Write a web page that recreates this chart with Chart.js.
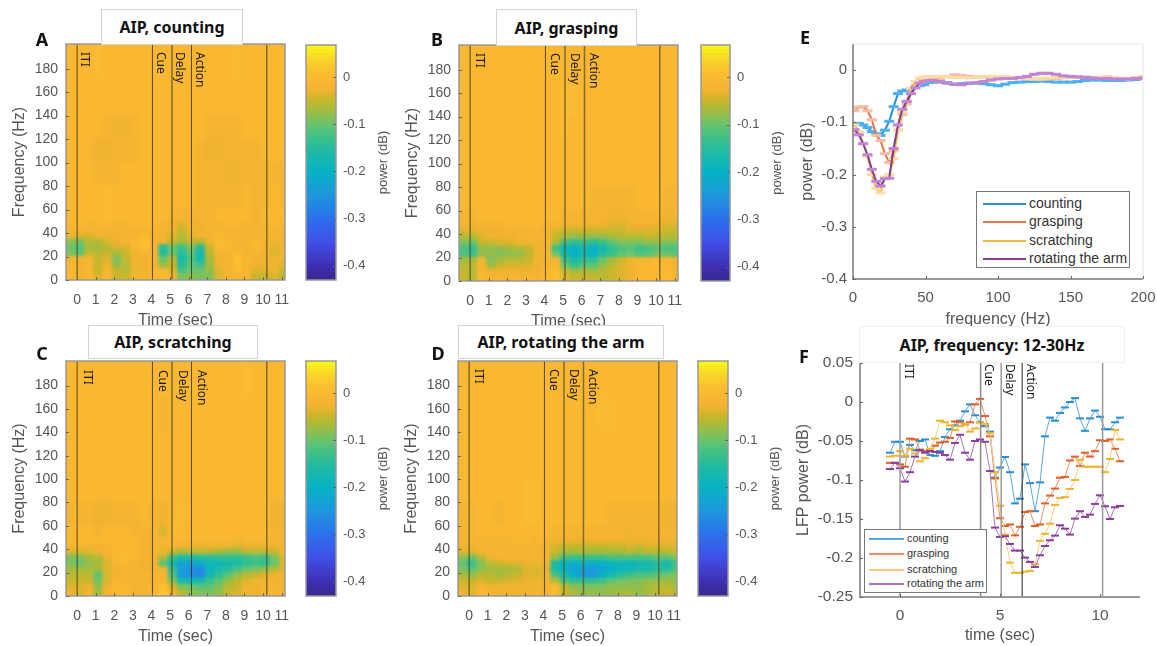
<!DOCTYPE html>
<html lang="en">

<head>
    <meta charset="UTF-8">
    <title>AIP power</title>
    <script src="https://cdn.jsdelivr.net/npm/chart.js"></script>
    <style>
        body { margin: 0; background: white; width: 1157px; height: 646px; overflow: hidden; position: relative; font-family: "Liberation Sans", Arial, sans-serif; }
        canvas { position: absolute; }
        .title { position: absolute; box-sizing: border-box; background: white; border: 1px solid #d4d4d4; color: #111; display: flex; justify-content: center; align-items: center; font: bold 16px "Noto Sans", sans-serif; z-index: 2; }
        .letter { position: absolute; font: bold 18px "Noto Sans", sans-serif; color: #111; transform: translate(-50%, -50%); z-index: 3; }
        .legend { position: absolute; box-sizing: border-box; background: white; border: 1.5px solid #777; z-index: 3; }
        .legend div { position: absolute; color: #333; white-space: nowrap; line-height: 1; }
        .legend span { position: absolute; height: 2px; }
    </style>
</head>

<body>
    <div class="title" style="left:101px;top:9px;width:142px;height:36px">AIP, counting</div>
    <div class="title" style="left:496px;top:9px;width:141px;height:37px">AIP, grasping</div>
    <div class="title" style="left:88px;top:325px;width:170px;height:34px">AIP, scratching</div>
    <div class="title" style="left:458px;top:325px;width:206px;height:34px">AIP, rotating the arm</div>
    <div class="title" style="left:859px;top:326px;width:266px;height:37px;border-color:#f0f0f0">AIP, frequency: 12-30Hz</div>
    <div class="letter" style="left:42px;top:39px">A</div>
    <div class="letter" style="left:437px;top:39px">B</div>
    <div class="letter" style="left:42px;top:353px">C</div>
    <div class="letter" style="left:438px;top:353px">D</div>
    <div class="letter" style="left:805px;top:37px">E</div>
    <div class="letter" style="left:804px;top:356px">F</div>

<script>
    // heatmap grid: time bin centres (sec) and frequency band edges (Hz)
    const timeBins = [-0.35, 0.15, 0.65, 1.15, 1.65, 2.15, 2.65, 3.15, 3.65, 4.15, 4.65, 5.15, 5.65, 6.15, 6.65, 7.15, 7.65, 8.15, 8.65, 9.15, 9.65, 10.15, 10.65, 11.15];
    const freqEdges = [0, 5, 10, 15, 20, 25, 30, 35, 40, 45, 50, 60, 80, 100, 120, 140, 170, 201];

    // heatmap power, in 0.01 dB, rows go from the lowest band up
    const countingPower = [
        [-1,-3,-1,-4,-1,-5,-5,-2,-3,-1,0,-2,-9,-8,-9,-9,-4,-2,-2,-2,-5,-5,-4,-6],
        [-1,-3,-1,-5,-1,-5,-6,-3,-3,-1,-1,-4,-12,-10,-10,-8,-4,-2,0,-2,-4,-4,-3,-5],
        [-2,-3,-2,-5,-3,-8,-6,-3,-3,-2,-8,-5,-15,-11,-13,-7,-3,-2,1,-2,-3,-3,-3,-4],
        [-2,-3,-2,-5,-4,-9,-5,-3,-3,-2,-10,-6,-17,-12,-17,-7,-3,-2,1,-1,-3,-3,-3,-3],
        [-9,-11,-5,-6,-5,-7,-5,-3,-2,-2,-15,-10,-15,-11,-17,-6,-2,-2,-1,-2,-2,-3,-4,-3],
        [-10,-11,-7,-7,-6,-4,-4,-1,1,-2,-15,-10,-13,-9,-15,-5,0,-1,-2,-2,-1,-2,-4,-3],
        [-8,-9,-6,-6,-4,-3,-2,-1,1,-2,-3,-5,-7,-5,-6,-3,0,-1,-2,-2,-1,-2,-3,-3],
        [-3,-4,-4,-3,-3,-3,-2,-2,-1,-2,-3,-4,-6,-4,-3,-2,-1,-2,-2,-2,-2,-2,-2,-3],
        [-2,-2,-2,-2,-2,-2,-2,-2,-2,-2,-2,-3,-5,-3,-3,-2,-2,-2,-2,-2,-2,-2,-2,-2],
        [-1,-1,-2,-1,-1,-2,-2,-1,-1,-1,-2,-3,-4,-3,-3,-2,-2,-1,-1,-2,-2,-2,-1,-2],
        [-1,-1,-1,-1,0,-1,-1,-1,-1,-1,-1,-2,-2,-2,-2,-2,-1,-1,-1,-1,-2,-1,-1,-1],
        [-1,-1,-1,-1,0,-1,-1,-1,-1,-1,-1,-1,-1,-1,-2,-2,-2,-2,-2,-1,-2,-2,-1,-2],
        [-1,-1,-1,-2,-2,-2,-1,-1,-1,-1,-1,-1,-1,-1,-2,-2,-2,-3,-3,-2,-2,-2,-2,-2],
        [-1,-1,-1,-3,-3,-2,-2,-2,-1,-1,-1,-1,-1,-1,-2,-3,-3,-2,-2,-2,-2,-1,-1,-1],
        [-1,-1,-1,-1,-2,-3,-3,-2,-1,-1,-1,-1,-1,-1,-1,-2,-2,-2,-2,-1,-1,-1,-1,-1],
        [-1,-1,-1,-1,-1,-1,-1,-1,-1,-1,-1,-1,-1,-1,-1,-1,-1,-1,-1,-1,-1,-1,-1,-1],
        [-1,-1,-1,0,-1,-1,-1,-1,-1,-1,-1,-1,-1,-1,-1,-1,-1,-1,0,-1,-1,-1,-1,-1]
    ];
    const graspingPower = [
        [-5,-6,-1,-2,-2,-2,-2,-2,-2,-1,1,-4,-5,-5,-5,-6,-5,-4,-3,-1,-1,0,0,-3],
        [-5,-6,-1,-3,-3,-3,-3,-3,-3,-1,1,-5,-7,-6,-7,-6,-5,-4,-3,-1,-1,-1,0,-3],
        [-6,-6,-2,-7,-5,-4,-4,-4,-3,-2,-1,-10,-13,-11,-11,-8,-6,-4,-3,-1,-1,-1,-1,-3],
        [-7,-7,-2,-9,-7,-6,-6,-5,-3,-2,-2,-13,-16,-14,-14,-10,-7,-5,-3,-2,-2,-1,-1,-3],
        [-12,-13,-8,-8,-9,-8,-8,-6,-3,-2,-10,-17,-20,-18,-20,-15,-13,-11,-10,-12,-11,-9,-10,-11],
        [-12,-14,-8,-8,-8,-7,-6,-5,-3,-2,-13,-19,-20,-17,-21,-17,-14,-12,-11,-13,-12,-11,-12,-12],
        [-9,-10,-5,-5,-4,-4,-3,-3,-3,-2,-7,-13,-14,-13,-15,-13,-11,-9,-9,-9,-8,-8,-9,-9],
        [-6,-6,-4,-3,-3,-3,-2,-2,-2,-3,-5,-7,-8,-8,-8,-8,-7,-6,-6,-6,-5,-6,-6,-6],
        [-4,-4,-3,-3,-3,-2,-2,-2,-2,-3,-4,-5,-5,-5,-5,-5,-5,-5,-4,-4,-4,-4,-5,-5],
        [-3,-3,-2,-2,-2,-1,-1,-1,-1,-2,-2,-3,-3,-3,-3,-3,-4,-4,-3,-3,-3,-3,-4,-4],
        [-2,-2,-1,-1,-1,-1,-1,-1,-1,-1,-1,-2,-2,-2,-2,-2,-3,-3,-2,-2,-2,-2,-3,-3],
        [-1,-1,-1,-1,-1,-1,-1,-1,-1,-1,-1,-1,-1,-1,-2,-2,-2,-2,-2,-1,-1,-1,-2,-2],
        [-1,-1,-1,-1,-1,-1,-1,-1,-1,-1,-1,-1,-1,-1,-1,-1,-1,-1,-1,-1,-1,-1,-1,-1],
        [-1,-1,-1,-1,-1,-1,-1,-1,-1,-1,-1,-1,-1,-1,-1,-1,-1,-1,-1,-1,-1,-1,-1,-1],
        [-1,-1,-1,-1,-1,-1,-1,-1,-1,-1,-1,0,-1,-1,-1,-1,-1,-1,-1,-1,-1,-1,-1,-1],
        [-1,-1,-1,-1,-1,-1,-1,-1,-1,-1,-1,0,0,-1,-1,-1,-1,-1,-1,-1,-1,-1,-1,-1],
        [-1,-1,-1,-1,-1,-1,-1,-1,-1,-1,-1,-1,-1,-1,-1,-1,-1,-1,-1,-1,-1,-1,-1,-1]
    ];
    const scratchingPower = [
        [-3,-4,-3,-7,-2,0,-1,-2,-2,-1,2,-3,-6,-8,-9,-9,-8,-5,-4,-3,-3,-2,-2,-2],
        [-4,-4,-3,-8,-3,-1,-1,-2,-2,-1,1,-4,-9,-10,-11,-11,-9,-6,-5,-3,-3,-2,-2,-3],
        [-5,-5,-5,-9,-4,-2,-2,-2,-2,-2,-2,-9,-17,-19,-17,-13,-11,-8,-5,-4,-3,-3,-3,-3],
        [-6,-6,-6,-11,-4,-3,-2,-2,-2,-2,-2,-12,-24,-26,-27,-18,-14,-11,-8,-6,-5,-4,-3,-3],
        [-7,-7,-7,-7,-4,-3,-2,-2,-3,-3,-3,-14,-24,-26,-27,-19,-17,-15,-12,-10,-9,-8,-6,-4],
        [-9,-10,-8,-7,-4,-2,-1,-2,-3,-3,-11,-18,-23,-23,-21,-18,-18,-17,-16,-14,-13,-14,-10,-4],
        [-9,-9,-7,-6,-3,-1,0,-1,-2,-2,-6,-13,-16,-16,-15,-15,-14,-14,-14,-13,-12,-13,-9,-4],
        [-4,-4,-4,-3,-2,-1,-1,-1,-2,-2,-3,-5,-7,-6,-6,-6,-7,-8,-8,-6,-6,-6,-5,-3],
        [-2,-2,-2,-2,-2,-1,-1,-1,-2,-2,-2,-2,-3,-3,-3,-3,-3,-3,-4,-3,-3,-3,-3,-2],
        [-1,-1,-1,-1,-1,-1,-1,-1,-2,-2,-2,-1,-1,-1,-1,-1,-1,-1,-2,-1,-1,-1,-2,-2],
        [-1,-1,-1,-2,-1,-1,-1,-2,-2,-2,-4,-1,-1,-1,-1,-1,-1,-1,-1,-1,-1,-1,-2,-2],
        [-2,-2,-2,-3,-3,-2,-2,-2,-1,-2,-3,-1,0,-1,-1,-1,-1,-1,-1,-1,-1,-1,-3,-3],
        [-1,-1,-1,-1,-1,-1,-1,-1,-1,-1,-1,-1,-1,-1,-1,-1,-1,-1,-1,-1,-1,-1,-1,-1],
        [-1,-1,-1,-1,-1,-1,-1,-1,-1,-1,-1,-1,-1,-1,-1,-1,-1,-1,-1,-1,-1,-1,-1,-1],
        [-1,-1,-1,-1,-1,-1,-1,-1,-1,-1,-1,-1,-1,-1,-1,-1,-1,-1,-1,-1,-1,-1,-1,-1],
        [-1,-1,-1,-1,-1,-1,-1,-1,-1,-1,-2,-1,-1,-1,-1,-1,-1,-1,-1,-1,-1,-1,-1,-1],
        [-1,-1,-1,-1,-1,-1,-1,-1,-1,-1,-1,-1,-1,-1,-1,-1,-1,-1,-1,0,-1,-1,-1,-1]
    ];
    const rotatingPower = [
        [-3,-4,-1,-2,-3,-3,-3,-3,-2,-3,0,-5,-7,-8,-8,-8,-8,-7,-7,-8,-7,-6,-5,-6],
        [-4,-4,-2,-3,-3,-3,-3,-3,-3,-3,0,-6,-8,-9,-9,-9,-8,-8,-8,-8,-7,-6,-6,-7],
        [-5,-5,-4,-5,-5,-4,-4,-3,-3,-3,-6,-12,-14,-14,-14,-13,-11,-10,-9,-9,-8,-8,-7,-8],
        [-7,-8,-6,-6,-7,-6,-5,-4,-4,-3,-12,-17,-21,-24,-25,-21,-18,-15,-13,-12,-12,-11,-10,-9],
        [-9,-11,-8,-7,-7,-7,-6,-4,-4,-4,-16,-20,-23,-24,-25,-23,-21,-19,-18,-17,-16,-15,-15,-12],
        [-11,-14,-9,-6,-5,-4,-4,-3,-3,-3,-16,-20,-21,-21,-21,-20,-19,-18,-19,-18,-17,-15,-17,-13],
        [-8,-10,-6,-3,-2,-2,-2,-2,-2,-2,-8,-12,-13,-13,-13,-13,-12,-12,-12,-12,-12,-11,-11,-9],
        [-4,-4,-3,-2,-2,-2,-2,-2,-2,-3,-5,-7,-7,-7,-7,-7,-7,-7,-6,-7,-6,-6,-6,-5],
        [-3,-3,-2,-2,-2,-2,-2,-2,-2,-3,-4,-5,-5,-5,-5,-5,-5,-5,-4,-5,-4,-4,-4,-4],
        [-2,-2,-2,-2,-2,-2,-1,-1,-2,-2,-3,-3,-3,-3,-3,-3,-3,-3,-3,-3,-3,-3,-3,-3],
        [-2,-2,-1,-1,-1,-1,-1,-1,-1,-1,-2,-2,-2,-2,-2,-2,-2,-2,-3,-2,-2,-2,-2,-2],
        [-2,-2,-1,-1,-2,-1,-1,0,0,-1,-1,-1,-1,-1,-1,-1,-2,-2,-2,-2,-2,-2,-3,-3],
        [-1,-1,-1,-1,-1,-1,-1,0,0,-1,-1,-1,-1,-1,-1,-1,-1,-1,-1,-1,-1,-1,-1,-1],
        [-1,-1,-1,-1,-1,-1,-1,-1,-1,-1,-1,-1,-1,-1,-1,-1,-1,-1,-1,-1,-1,-1,-1,-1],
        [-1,-1,-1,-1,-1,-1,-1,-1,-1,-1,-1,-1,-1,-1,-1,-1,-1,-1,-1,-1,-1,-1,-1,-1],
        [-1,-1,-1,-1,-1,-1,-1,-1,-1,-1,-1,-1,-1,-1,-1,0,0,-1,-1,-1,-1,-1,-1,-1],
        [-1,-1,-1,-1,-1,-1,-1,-1,-1,-1,-1,-1,-1,-1,-1,-1,-1,-1,-1,-1,-1,-1,-1,-1]
    ];

    // panel E, power spectrum
    const spectrumFreqs = [1, 4, 7, 10, 13, 16, 19, 22, 25, 28, 31, 34, 37, 40, 43, 46, 49, 52, 55, 60, 65, 70, 75, 80, 85, 90, 95, 100, 105, 110, 115, 120, 125, 130, 135, 140, 145, 150, 155, 160, 165, 170, 175, 180, 185, 190, 195, 200];
    const spectrumCounting = [-.103,-.102,-.105,-.11,-.118,-.122,-.125,-.115,-.098,-.07,-.045,-.04,-.038,-.035,-.033,-.03,-.028,-.024,-.023,-.022,-.024,-.027,-.026,-.025,-.025,-.026,-.028,-.03,-.027,-.024,-.023,-.022,-.022,-.021,-.022,-.023,-.023,-.023,-.022,-.02,-.019,-.019,-.02,-.02,-.02,-.019,-.018,-.016];
    const spectrumGrasping = [-.078,-.071,-.07,-.078,-.095,-.125,-.135,-.16,-.177,-.155,-.115,-.085,-.065,-.045,-.03,-.022,-.02,-.019,-.018,-.016,-.012,-.009,-.01,-.012,-.013,-.013,-.013,-.013,-.013,-.014,-.015,-.016,-.017,-.018,-.017,-.016,-.015,-.014,-.014,-.013,-.014,-.014,-.013,-.015,-.016,-.017,-.016,-.015];
    const spectrumScratching = [-.105,-.118,-.14,-.165,-.2,-.227,-.235,-.205,-.2,-.17,-.115,-.08,-.06,-.035,-.022,-.015,-.013,-.012,-.012,-.012,-.013,-.014,-.014,-.015,-.014,-.012,-.012,-.012,-.013,-.014,-.015,-.017,-.017,-.016,-.015,-.014,-.014,-.013,-.013,-.014,-.014,-.014,-.015,-.016,-.016,-.016,-.014,-.012];
    const spectrumRotating = [-.114,-.124,-.141,-.162,-.19,-.213,-.222,-.208,-.207,-.15,-.105,-.075,-.06,-.045,-.034,-.025,-.022,-.02,-.02,-.023,-.025,-.027,-.028,-.025,-.024,-.022,-.019,-.017,-.016,-.016,-.014,-.012,-.008,-.006,-.006,-.008,-.011,-.012,-.013,-.014,-.015,-.016,-.016,-.017,-.017,-.017,-.016,-.015];

    // panel F, 12-30Hz band power over time
    const bandTimes = [-0.5, -0.25, 0, 0.25, 0.5, 0.75, 1, 1.25, 1.5, 1.75, 2, 2.25, 2.5, 2.75, 3, 3.25, 3.5, 3.75, 4, 4.25, 4.5, 4.75, 5, 5.25, 5.5, 5.75, 6, 6.25, 6.5, 6.75, 7, 7.25, 7.5, 7.75, 8, 8.25, 8.5, 8.75, 9, 9.25, 9.5, 9.75, 10, 10.25, 10.5, 10.75, 11];
    const bandCounting = [-.065,-.051,-.051,-.07,-.055,-.062,-.05,-.048,-.068,-.069,-.063,-.045,-.035,-.03,-.024,-.012,-.003,-.017,-.026,-.031,-.038,-.097,-.084,-.0705,-.09,-.13,-.124,-.08,-.104,-.14,-.103,-.044,-.02,-.024,-.014,-.007,0,.005,-.021,-.037,-.021,-.011,-.019,-.035,-.035,-.026,-.02];
    const bandGrasping = [-.078,-.078,-.08,-.083,-.047,-.048,-.061,-.063,-.062,-.056,-.052,-.051,-.046,-.025,-.026,-.029,-.026,-.003,.004,-.018,-.044,-.098,-.149,-.159,-.157,-.171,-.16,-.141,-.14,-.159,-.157,-.13,-.12,-.111,-.097,-.096,-.075,-.07,-.082,-.065,-.07,-.063,-.049,-.05,-.048,-.06,-.076];
    const bandScratching = [-.07,-.069,-.063,-.069,-.06,-.066,-.076,-.072,-.06,-.047,-.024,-.026,-.03,-.036,-.031,-.028,-.038,-.034,-.026,-.028,-.04,-.09,-.133,-.17,-.206,-.219,-.219,-.2175,-.2166,-.208,-.178,-.169,-.156,-.132,-.123,-.122,-.1115,-.1,-.074,-.083,-.083,-.083,-.083,-.09,-.073,-.036,-.048];
    const bandRotating = [-.086,-.078,-.085,-.102,-.09,-.07,-.062,-.065,-.063,-.064,-.065,-.068,-.074,-.0525,-.042,-.065,-.074,-.05,-.048,-.051,-.0885,-.161,-.173,-.172,-.182,-.1905,-.1905,-.1995,-.205,-.2115,-.1965,-.1846,-.1773,-.1713,-.158,-.1624,-.17,-.1495,-.14,-.1474,-.1444,-.1307,-.1196,-.1337,-.15,-.135,-.1333];

    const seriesNames = ['counting', 'grasping', 'scratching', 'rotating the arm'];
    const eventNames = ['ITI', 'Cue', 'Delay', 'Action'];
    const heatEventTimes = [0, 4.05, 5.1, 6.15, 10.2];
    const bandEventTimes = [0, 4.03, 5.06, 6.11, 10.13];

    const timeTicks = [0, 1, 2, 3, 4, 5, 6, 7, 8, 9, 10, 11];
    const freqTicks = [0, 20, 40, 60, 80, 100, 120, 140, 160, 180];
    const colorbarTicks = [0, -0.1, -0.2, -0.3, -0.4];
    const spectrumXTicks = [0, 50, 100, 150, 200];
    const spectrumYTicks = [0, -0.1, -0.2, -0.3, -0.4];
    const bandXTicks = [0, 5, 10];
    const bandYTicks = [0.05, 0, -0.05, -0.1, -0.15, -0.2, -0.25];

    // colour scale
    const colorStops = [
        [-0.43, [56, 40, 140]], [-0.4, [62, 48, 180]], [-0.35, [65, 80, 232]], [-0.3, [43, 114, 236]], [-0.25, [30, 152, 220]],
        [-0.2, [5, 179, 196]], [-0.16, [30, 186, 165]], [-0.13, [59, 192, 138]], [-0.1, [106, 196, 108]], [-0.07, [166, 187, 60]],
        [-0.05, [201, 182, 44]], [-0.03, [240, 180, 48]], [-0.015, [249, 181, 50]], [0.01, [250, 190, 48]], [0.04, [249, 216, 41]], [0.068, [249, 251, 21]]
    ];

    function colorFor(v) {
        for (let i = 1; i < colorStops.length; i++) {
            if (v <= colorStops[i][0]) {
                const a = colorStops[i - 1], b = colorStops[i];
                const f = Math.max(0, (v - a[0]) / (b[0] - a[0]));
                const c = a[1].map((x, j) => Math.round(x + (b[1][j] - x) * f));
                return `rgb(${c[0]},${c[1]},${c[2]})`;
            }
        }
        return 'rgb(249,251,21)';
    }

    Chart.defaults.font.family = '"Liberation Sans", Arial, sans-serif';
    Chart.defaults.color = '#555';
    Chart.defaults.animation = false;

    // blur the heat cells, then event lines, inward ticks and the frame
    const panelExtras = {
        id: 'panelExtras',
        afterDatasetsDraw(chart, args, opts) {
            const { ctx, chartArea: a, scales } = chart;
            const w = a.right - a.left, h = a.bottom - a.top;
            ctx.save();
            if (opts.blur) {
                ctx.save();
                ctx.beginPath();
                ctx.rect(a.left, a.top, w, h);
                ctx.clip();
                ctx.filter = `blur(${opts.blur}px)`;
                ctx.drawImage(chart.canvas, a.left, a.top, w, h, a.left, a.top, w, h);
                ctx.restore();
            }
            (opts.eventTimes || []).forEach((t, i) => {
                const x = scales.x.getPixelForValue(t);
                const shade = opts.eventShades[i];
                ctx.strokeStyle = shade[0];
                ctx.lineWidth = shade[1];
                ctx.beginPath();
                ctx.moveTo(x, a.top);
                ctx.lineTo(x, a.bottom);
                ctx.stroke();
                if (i < eventNames.length) {
                    ctx.save();
                    ctx.translate(x + opts.labelOffset, a.top + opts.labelTop);
                    ctx.rotate(Math.PI / 2);
                    ctx.font = '12px "Noto Sans", sans-serif';
                    ctx.fillStyle = '#1a1a1a';
                    ctx.textAlign = 'left';
                    ctx.textBaseline = 'middle';
                    ctx.fillText(eventNames[i], 0, 0);
                    ctx.restore();
                }
            });
            ctx.strokeStyle = opts.axisColor || '#999';
            ctx.lineWidth = opts.axisWidth || 1.5;
            if (opts.fullBox) {
                ctx.strokeRect(a.left, a.top, w, h);
            } else {
                ctx.beginPath();
                ctx.moveTo(a.left, a.top);
                ctx.lineTo(a.left, a.bottom);
                ctx.lineTo(a.right, a.bottom);
                ctx.stroke();
                if (opts.faintBox) {
                    ctx.strokeStyle = '#e4e4e4';
                    ctx.lineWidth = 1;
                    ctx.beginPath();
                    ctx.moveTo(a.left, a.top);
                    ctx.lineTo(a.right, a.top);
                    ctx.lineTo(a.right, a.bottom);
                    ctx.stroke();
                }
            }
            ctx.strokeStyle = '#666';
            ctx.lineWidth = 1;
            ctx.beginPath();
            if (scales.x && scales.x.options.display) {
                scales.x.ticks.forEach(t => {
                    const x = Math.round(scales.x.getPixelForValue(t.value)) + 0.5;
                    ctx.moveTo(x, a.bottom);
                    ctx.lineTo(x, a.bottom - 3);
                });
            }
            scales.y.ticks.forEach(t => {
                const y = Math.round(scales.y.getPixelForValue(t.value)) + 0.5;
                if (scales.y.options.position === 'right') {
                    ctx.moveTo(a.right, y);
                    ctx.lineTo(a.right - 3, y);
                } else {
                    ctx.moveTo(a.left, y);
                    ctx.lineTo(a.left + 3, y);
                }
            });
            ctx.stroke();
            if (opts.sideTitle) {
                ctx.save();
                ctx.translate(a.right + opts.sideTitle.dx, (a.top + a.bottom) / 2 + opts.sideTitle.dy);
                ctx.rotate(-Math.PI / 2);
                ctx.font = '13px "Liberation Sans", Arial, sans-serif';
                ctx.fillStyle = '#555';
                ctx.textAlign = 'center';
                ctx.textBaseline = 'middle';
                ctx.fillText(opts.sideTitle.text, 0, 0);
                ctx.restore();
            }
            ctx.restore();
        }
    };

    function addCanvas(plot, g) {
        const c = document.createElement('canvas');
        c.width = plot.right - plot.left + g.left + g.right;
        c.height = plot.bottom - plot.top + g.top + g.bottom;
        c.style.left = (plot.left - g.left) + 'px';
        c.style.top = (plot.top - g.top) + 'px';
        document.body.appendChild(c);
        return c.getContext('2d');
    }

    function numberTicks(size, padding) {
        return {
            autoSkip: false, maxRotation: 0, minRotation: 0, padding: padding,
            font: { size: size }, color: '#555',
            callback: v => String(v)
        };
    }

    // fixed axis gutter, and no label overhang eating into the plot area
    function fixGutter(s, key, size) {
        s[key] = size;
        s.paddingLeft = s.paddingRight = s.paddingTop = s.paddingBottom = 0;
    }

    function axis(min, max, tickValues, title, size, padding, after) {
        return {
            type: 'linear', min: min, max: max, offset: false,
            grid: { display: false, drawTicks: false },
            border: { display: false },
            afterBuildTicks: s => { s.ticks = tickValues.map(v => ({ value: v })); },
            afterFit: after,
            ticks: numberTicks(size, padding),
            title: { display: true, text: title, color: '#555', font: { size: 16 }, padding: 0 }
        };
    }

    function drawHeatmap(plot, rows, shades, labelOffset, labelTop) {
        const g = { left: 56, right: 8, top: 1, bottom: 50 };
        const datasets = rows.map((row, r) => ({
            data: timeBins.map(t => ({ x: t, y: [freqEdges[r], freqEdges[r + 1]] })),
            backgroundColor: row.map(v => colorFor(v / 100)),
            borderWidth: 0, inflateAmount: 0.6,
            barPercentage: 1, categoryPercentage: 1, grouped: false
        }));
        new Chart(addCanvas(plot, g), {
            type: 'bar',
            data: { datasets: datasets },
            options: {
                responsive: false,
                layout: { autoPadding: false, padding: { top: g.top, right: g.right } },
                scales: {
                    x: axis(-0.6, 11.18, timeTicks, 'Time (sec)', 14, 12, s => fixGutter(s, 'height', g.bottom)),
                    y: axis(0, 201, freqTicks, 'Frequency (Hz)', 14, 8, s => fixGutter(s, 'width', g.left))
                },
                plugins: {
                    legend: { display: false }, tooltip: { enabled: false },
                    panelExtras: { blur: 1.8, eventTimes: heatEventTimes, eventShades: shades, labelOffset: labelOffset, labelTop: labelTop, fullBox: true }
                }
            },
            plugins: [panelExtras]
        });
    }

    function drawColorbar(plot) {
        const g = { left: 1, right: 60, top: 8, bottom: 8 };
        const steps = [];
        for (let v = -0.43; v < 0.068; v += 0.008) steps.push(v);
        const datasets = steps.map(v => ({
            data: [[v, v + 0.008]],
            backgroundColor: colorFor(v + 0.004),
            borderWidth: 0, inflateAmount: 0.6,
            barPercentage: 1, categoryPercentage: 1, grouped: false
        }));
        const y = axis(-0.43, 0.068, colorbarTicks, '', 13, 7, s => fixGutter(s, 'width', g.right));
        y.position = 'right';
        y.title = { display: false };
        new Chart(addCanvas(plot, g), {
            type: 'bar',
            data: { labels: ['power (dB)'], datasets: datasets },
            options: {
                responsive: false,
                layout: { autoPadding: false, padding: { left: g.left, top: g.top, bottom: g.bottom } },
                scales: { x: { display: false }, y: y },
                plugins: {
                    legend: { display: false }, tooltip: { enabled: false },
                    panelExtras: { fullBox: true, sideTitle: { text: 'power (dB)', dx: 47, dy: 0 } }
                }
            },
            plugins: [panelExtras]
        });
    }

    function drawLines(plot, g, xs, series, scales, look, extras) {
        const datasets = series.map((vals, i) => ({
            label: seriesNames[i],
            data: xs.map((x, j) => ({ x: x, y: vals[j] })),
            borderColor: look.line[i], borderWidth: look.lineWidth,
            pointStyle: 'line', pointRadius: look.dash, pointBorderColor: look.marker[i], pointBorderWidth: look.dashWidth,
            tension: 0, fill: false, order: series.length - i
        }));
        new Chart(addCanvas(plot, g), {
            type: 'line',
            data: { datasets: datasets },
            options: {
                responsive: false,
                layout: { autoPadding: false, padding: { top: g.top, right: g.right } },
                scales: scales,
                plugins: { legend: { display: false }, tooltip: { enabled: false }, panelExtras: extras }
            },
            plugins: [panelExtras]
        });
    }

    function addLegend(box, swatchColors, size, rowY, rowX, lineEnd) {
        const el = document.createElement('div');
        el.className = 'legend';
        el.style.cssText = `left:${box.left}px;top:${box.top}px;width:${box.right - box.left}px;height:${box.bottom - box.top}px`;
        seriesNames.forEach((name, i) => {
            const line = document.createElement('span');
            line.style.cssText = `left:${rowX}px;width:${lineEnd - rowX}px;top:${rowY[i] - 1}px;background:${swatchColors[i]}`;
            const text = document.createElement('div');
            text.textContent = name;
            text.style.cssText = `left:${lineEnd + 3}px;top:${rowY[i] - size / 2 - 1}px;font-size:${size}px`;
            el.appendChild(line);
            el.appendChild(text);
        });
        document.body.appendChild(el);
    }

    const darkLine = ['rgba(50,45,25,.8)', 1];
    const softLine = ['rgba(90,80,40,.75)', 1.5];
    drawHeatmap({ left: 66, right: 285, top: 44, bottom: 280 }, countingPower, [darkLine, darkLine, softLine, darkLine, softLine], 7.5, 8);
    drawHeatmap({ left: 459, right: 678, top: 45, bottom: 281 }, graspingPower, [softLine, darkLine, softLine, softLine, softLine], 9, 8);
    drawHeatmap({ left: 66, right: 285, top: 361, bottom: 596 }, scratchingPower, [darkLine, darkLine, softLine, darkLine, softLine], 10, 9);
    drawHeatmap({ left: 458, right: 677, top: 361, bottom: 596 }, rotatingPower, [softLine, darkLine, softLine, softLine, softLine], 9, 8);

    drawColorbar({ left: 306, right: 336, top: 45, bottom: 280 });
    drawColorbar({ left: 701, right: 730, top: 45, bottom: 281 });
    drawColorbar({ left: 306, right: 336, top: 361, bottom: 596 });
    drawColorbar({ left: 698, right: 728, top: 361, bottom: 596 });

    const gE = { left: 55, right: 12, top: 4, bottom: 50 };
    drawLines({ left: 853, right: 1143, top: 44, bottom: 279 }, gE, spectrumFreqs,
        [spectrumCounting, spectrumGrasping, spectrumScratching, spectrumRotating],
        {
            x: axis(0, 200, spectrumXTicks, 'frequency (Hz)', 15, 10, s => fixGutter(s, 'height', gE.bottom)),
            y: axis(-0.4, 0.05, spectrumYTicks, 'power (dB)', 15, 6, s => fixGutter(s, 'width', gE.left))
        },
        {
            line: ['#2a8fd6', '#e5764a', '#f0b840', '#7e3f96'],
            marker: ['#4db0f0', '#f6bda5', '#f9dca6', '#c384d6'],
            lineWidth: 2, dash: 5, dashWidth: 3
        },
        { faintBox: true, axisColor: '#999', axisWidth: 2 });

    const gF = { left: 66, right: 10, top: 8, bottom: 48 };
    drawLines({ left: 860, right: 1140, top: 363, bottom: 597 }, gF, bandTimes,
        [bandCounting, bandGrasping, bandScratching, bandRotating],
        {
            x: axis(-2, 12, bandXTicks, 'time (sec)', 15.5, 9, s => fixGutter(s, 'height', gF.bottom)),
            y: axis(-0.25, 0.05, bandYTicks, 'LFP power (dB)', 15.5, 7, s => fixGutter(s, 'width', gF.left))
        },
        {
            line: ['#5aa7dc', '#ec8f68', '#f5cf7a', '#a873b8'],
            marker: ['#2a8fd0', '#e0602a', '#efb52c', '#8a3f9c'],
            lineWidth: 1, dash: 4, dashWidth: 2
        },
        {
            eventTimes: bandEventTimes, labelOffset: 8, labelTop: 1, axisColor: '#999', axisWidth: 2,
            eventShades: [['#999', 1.5], ['#888', 1.5], ['#999', 1.5], ['#444', 1.2], ['#999', 1.5]]
        });

    addLegend({ left: 976, right: 1130, top: 191, bottom: 268 }, ['#2a8fd6', '#e5764a', '#f0b840', '#7e3f96'], 14, [12, 30, 49, 67], 6, 49);
    addLegend({ left: 864, right: 987, top: 529, bottom: 593 }, ['#5aa7dc', '#ec8f68', '#f5cf7a', '#a873b8'], 11, [9, 24, 40, 54], 4, 39);
</script>
</body>

</html>
